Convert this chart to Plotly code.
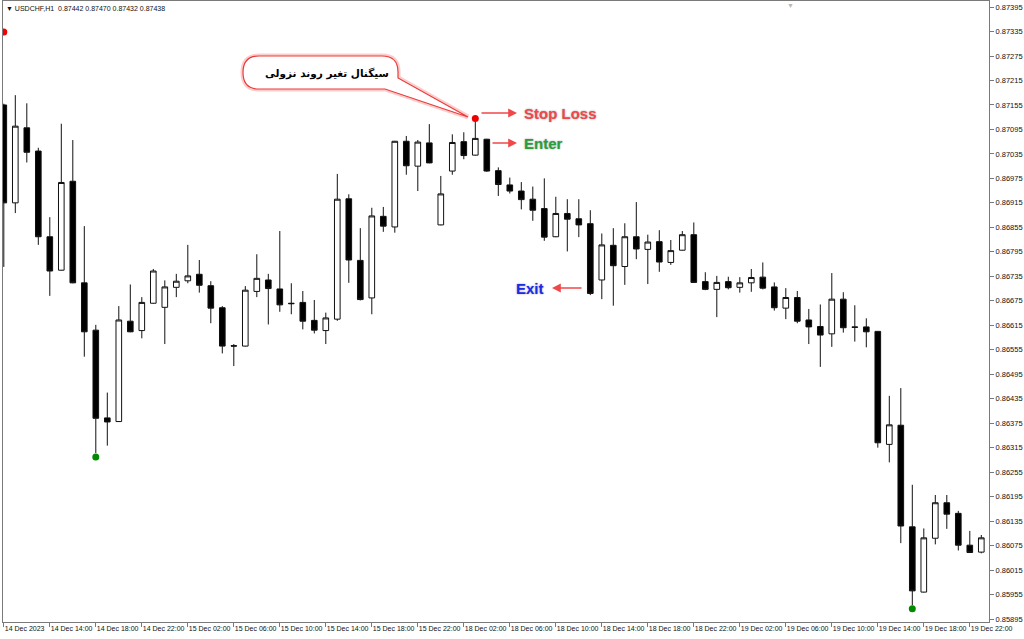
import plotly.graph_objects as go

# ---------------- data (USDCHF H1, 14 Dec 10:00 -> 19 Dec 23:00) ----------------
days = [("14 Dec", range(10, 24)), ("15 Dec", range(0, 24)), ("18 Dec", range(0, 24)), ("19 Dec", range(0, 24))]
times = [f"{d} {h:02d}:00" for d, hrs in days for h in hrs]

open_ = [0.87155, 0.86915, 0.87099, 0.87042, 0.86832, 0.86750, 0.86968, 0.86719, 0.86603, 0.86388,
         0.86379, 0.86625, 0.86602, 0.86669, 0.86659, 0.86708, 0.86724, 0.86740, 0.86712, 0.86658,
         0.86565, 0.86564, 0.86698, 0.86726, 0.86704, 0.86669, 0.86671, 0.86627, 0.86602, 0.86630,
         0.86925, 0.86774, 0.86682, 0.86882, 0.86856, 0.87066, 0.87005, 0.87062, 0.86861, 0.86993,
         0.87065, 0.87032, 0.87071, 0.86994, 0.86959, 0.86944, 0.86924, 0.86901, 0.86832, 0.86889,
         0.86876, 0.86864, 0.86726, 0.86811, 0.86759, 0.86832, 0.86801, 0.86820, 0.86769, 0.86799,
         0.86837, 0.86722, 0.86703, 0.86722, 0.86708, 0.86719, 0.86733, 0.86709, 0.86657, 0.86683,
         0.86628, 0.86612, 0.86594, 0.86679, 0.86611, 0.86611, 0.86600, 0.86323, 0.86370, 0.86121,
         0.85961, 0.86093, 0.86180, 0.86154, 0.86076, 0.86059]
high = [0.87158, 0.87179, 0.87159, 0.87050, 0.86880, 0.87109, 0.87069, 0.86858, 0.86616, 0.86450,
        0.86662, 0.86715, 0.86684, 0.86753, 0.86725, 0.86741, 0.86812, 0.86775, 0.86723, 0.86662,
        0.86569, 0.86711, 0.86789, 0.86741, 0.86846, 0.86718, 0.86699, 0.86677, 0.86646, 0.86986,
        0.86936, 0.86853, 0.86903, 0.86905, 0.87067, 0.87079, 0.87069, 0.87108, 0.86981, 0.87083,
        0.87088, 0.87116, 0.87072, 0.87002, 0.86977, 0.86966, 0.86955, 0.86975, 0.86930, 0.86924,
        0.86924, 0.86897, 0.86840, 0.86853, 0.86865, 0.86917, 0.86837, 0.86848, 0.86824, 0.86846,
        0.86867, 0.86745, 0.86736, 0.86734, 0.86733, 0.86753, 0.86769, 0.86720, 0.86706, 0.86699,
        0.86655, 0.86666, 0.86743, 0.86696, 0.86664, 0.86632, 0.86601, 0.86442, 0.86461, 0.86224,
        0.86117, 0.86199, 0.86199, 0.86160, 0.86111, 0.86101]
low = [0.86758, 0.86890, 0.87014, 0.86812, 0.86687, 0.86749, 0.86718, 0.86538, 0.86302, 0.86320,
       0.86378, 0.86598, 0.86583, 0.86668, 0.86569, 0.86684, 0.86718, 0.86695, 0.86620, 0.86546,
       0.86515, 0.86563, 0.86684, 0.86617, 0.86648, 0.86642, 0.86605, 0.86595, 0.86569, 0.86626,
       0.86719, 0.86676, 0.86642, 0.86844, 0.86842, 0.86984, 0.86944, 0.87012, 0.86860, 0.86984,
       0.87022, 0.87031, 0.86991, 0.86932, 0.86938, 0.86899, 0.86871, 0.86822, 0.86831, 0.86796,
       0.86831, 0.86689, 0.86679, 0.86663, 0.86714, 0.86777, 0.86716, 0.86746, 0.86763, 0.86798,
       0.86719, 0.86701, 0.86635, 0.86703, 0.86695, 0.86697, 0.86703, 0.86651, 0.86630, 0.86620,
       0.86569, 0.86513, 0.86562, 0.86597, 0.86575, 0.86561, 0.86315, 0.86279, 0.86081, 0.85929,
       0.85960, 0.86078, 0.86116, 0.86063, 0.86057, 0.86056]
close = [0.86915, 0.87103, 0.87039, 0.86832, 0.86748, 0.86965, 0.86719, 0.86599, 0.86387, 0.86378,
         0.86628, 0.86599, 0.86671, 0.86748, 0.86709, 0.86723, 0.86736, 0.86713, 0.86657, 0.86564,
         0.86564, 0.86701, 0.86730, 0.86705, 0.86665, 0.86668, 0.86625, 0.86603, 0.86633, 0.86924,
         0.86775, 0.86678, 0.86883, 0.86858, 0.87066, 0.87006, 0.87064, 0.87013, 0.86937, 0.87063,
         0.87031, 0.87073, 0.86993, 0.86960, 0.86944, 0.86923, 0.86897, 0.86831, 0.86889, 0.86875,
         0.86861, 0.86693, 0.86812, 0.86761, 0.86832, 0.86802, 0.86819, 0.86770, 0.86798, 0.86837,
         0.86720, 0.86703, 0.86720, 0.86707, 0.86719, 0.86732, 0.86706, 0.86658, 0.86683, 0.86625,
         0.86611, 0.86591, 0.86679, 0.86609, 0.86610, 0.86599, 0.86327, 0.86371, 0.86123, 0.85964,
         0.86094, 0.86180, 0.86152, 0.86076, 0.86058, 0.86094]

# indicator signal dots
sell_signal_idx = [0, 41]
sell_signal_price = [0.87334, 0.87122]
buy_signal_idx = [8, 79]
buy_signal_price = [0.86292, 0.85920]

# axis ticks
x_tick_idx = list(range(0, 86, 4))
x_tick_labels = ["14 Dec 2023", "14 Dec 14:00", "14 Dec 18:00", "14 Dec 22:00", "15 Dec 02:00",
                 "15 Dec 06:00", "15 Dec 10:00", "15 Dec 14:00", "15 Dec 18:00", "15 Dec 22:00",
                 "18 Dec 02:00", "18 Dec 06:00", "18 Dec 10:00", "18 Dec 14:00", "18 Dec 18:00",
                 "18 Dec 22:00", "19 Dec 02:00", "19 Dec 06:00", "19 Dec 10:00", "19 Dec 14:00",
                 "19 Dec 18:00", "19 Dec 22:00"]
y_tick_vals = [0.85895 + 0.0006 * k for k in range(26)]
y_tick_labels = [f"{v:.5f}" for v in y_tick_vals]

title_text = "USDCHF,H1  0.87442 0.87470 0.87432 0.87438"
bubble_text = "سیگنال تغیر روند نزولی"

# ---------------- figure ----------------
W, H = 1024, 639
ML, MR, MT, MB = 3, 35, 1, 17
PW, PH = W - ML - MR, H - MT - MB


def paper(xp, yp):
    return (xp - ML) / PW, (H - MB - yp) / PH


idx = list(range(len(times)))
fig = go.Figure()
fig.add_trace(go.Candlestick(
    x=idx, open=open_, high=high, low=low, close=close, text=times, hoverinfo="text+y",
    increasing=dict(fillcolor="white", line=dict(color="#111111", width=1)),
    decreasing=dict(fillcolor="black", line=dict(color="#111111", width=1)),
    whiskerwidth=0, showlegend=False,
))
fig.add_trace(go.Scatter(x=sell_signal_idx, y=sell_signal_price, mode="markers",
                         marker=dict(color="#f00000", size=7), showlegend=False, hoverinfo="skip"))
fig.add_trace(go.Scatter(x=buy_signal_idx, y=buy_signal_price, mode="markers",
                         marker=dict(color="#008a00", size=7), showlegend=False, hoverinfo="skip"))

# speech bubble
pts = {
    "a": (259, 56), "b": (382, 56), "c": (398, 56), "d": (398, 72), "e": (398, 78),
    "tip": (468, 117), "f": (385, 89), "g": (259, 89), "h": (243, 89), "i": (243, 72.5), "j": (243, 56),
}
P = {k: paper(*v) for k, v in pts.items()}
fmt = lambda p: f"{p[0]:.5f},{p[1]:.5f}"
path = (f"M {fmt(P['a'])} L {fmt(P['b'])} Q {fmt(P['c'])} {fmt(P['d'])} L {fmt(P['e'])} "
        f"L {fmt(P['tip'])} L {fmt(P['f'])} L {fmt(P['g'])} Q {fmt(P['h'])} {fmt(P['i'])} "
        f"Q {fmt(P['j'])} {fmt(P['a'])} Z")
fig.add_shape(type="path", path=path, xref="paper", yref="paper",
              line=dict(color="rgba(255,110,110,0.35)", width=5), fillcolor="white", layer="above")
fig.add_shape(type="path", path=path, xref="paper", yref="paper",
              line=dict(color="#e83c3c", width=1.2), fillcolor="white", layer="above")

ann = []
# RTL text is laid out shifted by the browser; compensate empirically
bx, by = paper(263, 65)
ann.append(dict(x=bx, y=by, xref="paper", yref="paper", text=bubble_text, showarrow=False,
                font=dict(family="DejaVu Sans", size=10.5, color="black", weight="bold")))

arrow_color = "#f04848"
for head, tail in [((517, 113), (480, 113)), ((517, 143), (491, 143)), ((552, 288), (583, 288))]:
    hx, hy = paper(*head)
    ann.append(dict(x=hx, y=hy, xref="paper", yref="paper", text="", showarrow=True,
                    ax=tail[0] - head[0], ay=tail[1] - head[1], arrowhead=2, arrowsize=1.1,
                    arrowwidth=1.6, arrowcolor=arrow_color, standoff=0))

shadow = "0px 0px 2px #9a9a9a"
for label, (lx, ly), col, anchor in [("Stop Loss", (522, 113), "#f04848", "left"),
                                     ("Enter", (522, 143), "#2a9d3a", "left"),
                                     ("Exit", (546, 288), "#1a2bea", "right")]:
    px_, py_ = paper(lx, ly)
    ann.append(dict(x=px_, y=py_, xref="paper", yref="paper", text=label, showarrow=False,
                    xanchor=anchor, yanchor="middle",
                    font=dict(family="Liberation Sans", size=15, color=col, weight="bold", shadow=shadow)))

tx, ty = paper(4, 8)
ann.append(dict(x=tx, y=ty, xref="paper", yref="paper", text="▼ " + title_text, showarrow=False,
                xanchor="left", yanchor="middle", font=dict(family="Liberation Sans", size=7, color="#111111")))
sx, sy = paper(790, 5)
ann.append(dict(x=sx, y=sy, xref="paper", yref="paper", text="▼", showarrow=False,
                xanchor="center", yanchor="middle", font=dict(size=7, color="#b8b8b8")))

x_lo = -0.07
x_hi = 85.67
fig.update_layout(
    width=W, height=H, margin=dict(l=ML, r=MR, t=MT, b=MB, pad=0, autoexpand=False),
    paper_bgcolor="white", plot_bgcolor="white", annotations=ann, hovermode="closest",
    xaxis=dict(range=[x_lo, x_hi], showgrid=False, zeroline=False, showline=True, linecolor="#7a7a7a",
               linewidth=1, mirror=True, ticks="outside", ticklen=4, tickcolor="#7a7a7a",
               tickvals=x_tick_idx, ticktext=x_tick_labels, ticklabelposition="outside right",
               tickangle=0, automargin=False, ticklabelstandoff=0,
               tickfont=dict(family="Liberation Sans", size=7, color="#111111"),
               rangeslider=dict(visible=False), fixedrange=True),
    yaxis=dict(side="right", range=[0.858877, 0.874098], showgrid=False, zeroline=False, showline=True,
               linecolor="#7a7a7a", linewidth=1, mirror=True, ticks="outside", ticklen=4,
               tickcolor="#7a7a7a", tickvals=y_tick_vals, ticktext=y_tick_labels, automargin=False,
               tickfont=dict(family="Liberation Sans", size=7.5, color="#111111"), fixedrange=True),
)

fig.write_html("out.html", config={"displayModeBar": False},
               post_script="document.body.style.margin='0';document.body.style.overflow='hidden';")
